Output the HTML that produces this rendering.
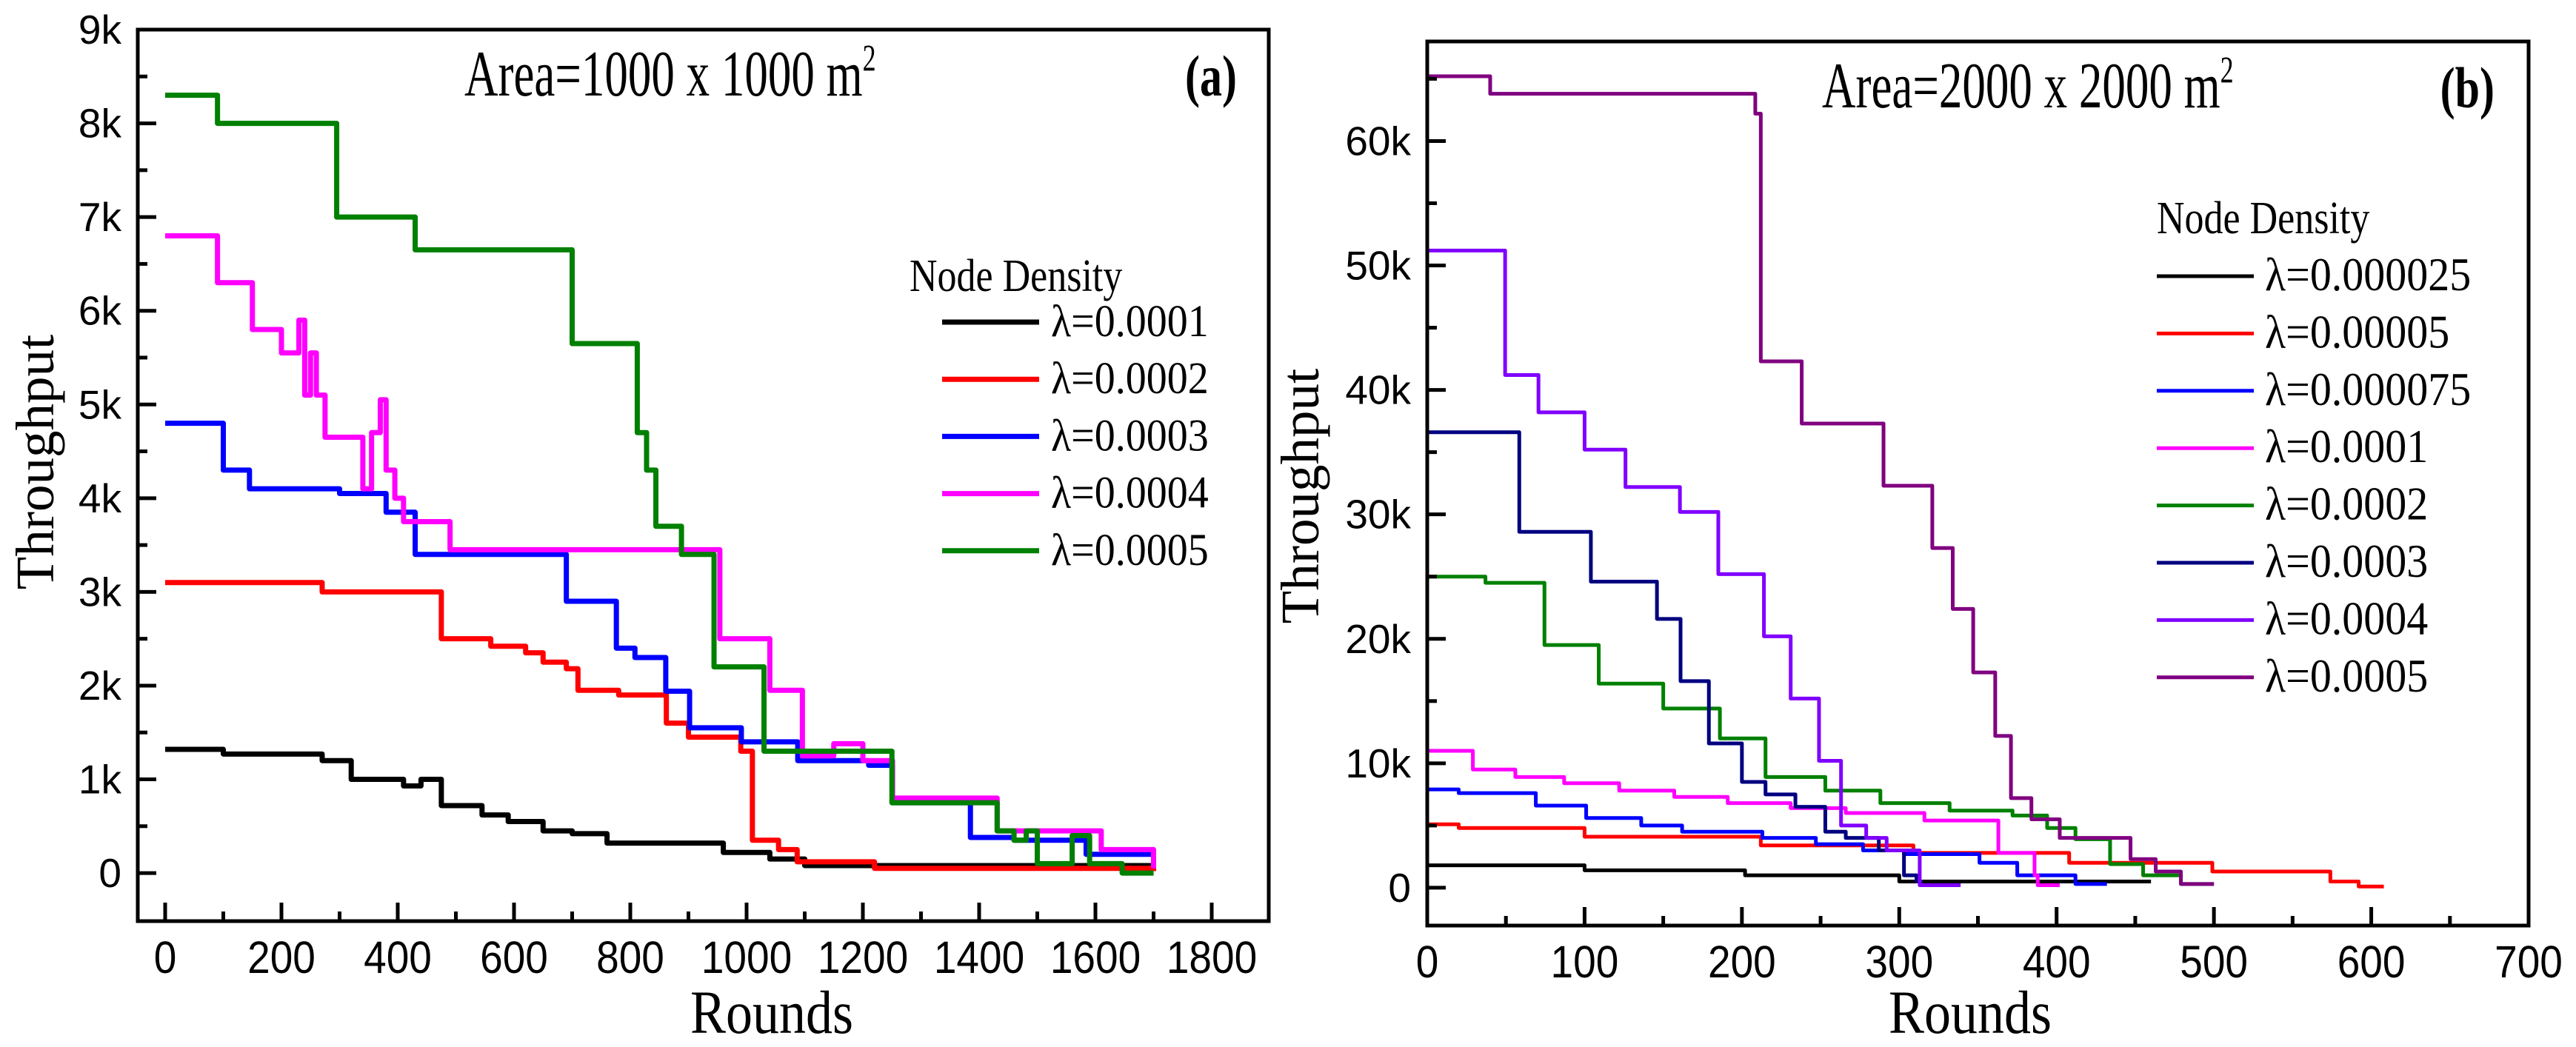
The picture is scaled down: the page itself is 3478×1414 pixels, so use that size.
<!DOCTYPE html>
<html><head><meta charset="utf-8"><style>
html,body{margin:0;padding:0;background:#fff}
svg{display:block}
.tk{font-family:"Liberation Sans",sans-serif;font-size:55px;fill:#000}
.sf{font-family:"Liberation Serif",serif;fill:#000}
</style></head><body>
<svg id="fig" width="3478" height="1414" viewBox="0 0 3478 1414" xmlns="http://www.w3.org/2000/svg"></svg>
<script>
// ---------- Panel (a) data (rounds, throughput in k) ----------
const aXTicks = [0,200,400,600,800,1000,1200,1400,1600,1800];
const aYTicks = [0,1,2,3,4,5,6,7,8,9];
const aYLabels = ["0","1k","2k","3k","4k","5k","6k","7k","8k","9k"];
const aNames = ["λ=0.0001","λ=0.0002","λ=0.0003","λ=0.0004","λ=0.0005"];
const aColors = ["#000000","#ff0000","#0000ff","#ff00ff","#008000"];
const a1X = [0,100,270,320,410,440,475,545,590,650,700,760,960,1040,1100,1700];
const a1Y = [1.32,1.27,1.2,1.0,0.93,1.0,0.72,0.62,0.55,0.45,0.42,0.32,0.22,0.15,0.08,0.03];
const a2X = [0,270,475,560,620,650,690,710,780,862,900,990,1010,1055,1087,1220,1700];
const a2Y = [3.1,3.0,2.5,2.42,2.35,2.25,2.18,1.95,1.9,1.6,1.45,1.3,0.35,0.25,0.12,0.05,0.02];
const a3X = [0,100,145,300,380,430,690,776,808,861,902,991,1088,1210,1251,1385,1460,1584,1700];
const a3Y = [4.8,4.3,4.1,4.05,3.85,3.4,2.9,2.4,2.3,1.94,1.55,1.4,1.2,1.15,0.75,0.38,0.35,0.2,0.05];
const a4X = [0,90,150,200,230,240,250,260,275,340,355,370,380,395,410,490,954,1040,1096,1150,1200,1251,1431,1610,1700];
const a4Y = [6.8,6.3,5.8,5.55,5.9,5.1,5.55,5.1,4.65,4.1,4.7,5.05,4.3,4.0,3.75,3.45,2.5,1.95,1.25,1.38,1.2,0.8,0.45,0.25,0.05];
const a5X = [0,90,295,430,700,812,828,844,888,944,1030,1250,1431,1460,1481,1500,1560,1590,1646,1700];
const a5Y = [8.3,8.0,7.0,6.65,5.65,4.7,4.3,3.7,3.4,2.2,1.3,0.75,0.45,0.35,0.45,0.1,0.4,0.1,0.0,0.0];

// ---------- Panel (b) data ----------
const bXTicks = [0,100,200,300,400,500,600,700];
const bYTicks = [0,10,20,30,40,50,60];
const bYLabels = ["0","10k","20k","30k","40k","50k","60k"];
const bNames = ["λ=0.000025","λ=0.00005","λ=0.000075","λ=0.0001","λ=0.0002","λ=0.0003","λ=0.0004","λ=0.0005"];
const bColors = ["#000000","#ff0000","#0000ff","#ff00ff","#008000","#000080","#8000ff","#800080"];
const b1X = [0,100,202,300,460];
const b1Y = [1.8,1.4,1.0,0.5,0.5];
const b2X = [0,20,100,212,309,408,499,574,592,608];
const b2Y = [5.1,4.8,4.1,3.4,2.8,2.0,1.3,0.5,0.1,0.1];
const b3X = [0,20,69,101,136,162,213,247,277,303,351,375,412,432];
const b3Y = [7.9,7.6,6.6,5.6,5.0,4.5,4.0,3.5,3.0,2.7,2.0,1.0,0.3,0.3];
const b4X = [0,29,56,87,122,157,191,231,266,316,363,386,388,402];
const b4Y = [11,9.5,8.9,8.4,7.8,7.3,6.8,6.4,6.0,5.4,2.8,1.0,0.2,0.2];
const b5X = [0,37,74.5,109,150,186,215,253,288,332,372,394,412,434,455,479,500];
const b5Y = [25,24.5,19.5,16.4,14.4,12,8.9,7.8,6.8,6.2,5.8,4.8,3.9,1.9,1.0,0.3,0.3];
const b6X = [0,58.5,104,146,161,179,200,215,234,253,266,287,303,311,315];
const b6Y = [36.6,28.6,24.6,21.6,16.6,11.6,8.5,7.5,6.5,4.5,4.0,3.0,1.0,0.5,0.5];
const b7X = [0,49.5,70.7,100,126,160.6,185,214,231,249,263,279,292,313,339];
const b7Y = [51.2,41.2,38.2,35.2,32.2,30.2,25.2,20.2,15.2,10.2,5.0,4.0,3.0,0.2,0.2];
const b8X = [0,40,208.5,212,238,290,321,334,347,361,371,384,402,447,463,479,500];
const b8Y = [65.2,63.8,62.2,42.3,37.3,32.3,27.3,22.4,17.3,12.2,7.2,5.5,4.0,2.3,1.3,0.3,0.3];

const NS = "http://www.w3.org/2000/svg";
const svg = document.getElementById('fig');
function mk(tag, attrs, parent, text){
  const e = document.createElementNS(NS, tag);
  for (const k in attrs) e.setAttribute(k, attrs[k]);
  if (text !== undefined) e.textContent = text;
  (parent||svg).appendChild(e);
  return e;
}

function panel(cfg){
  const g = mk('g', {});
  
  
  const sx = v => cfg.L + (v - cfg.x0) / (cfg.x1 - cfg.x0) * (cfg.R - cfg.L);
  const sy = v => cfg.B - (v - cfg.y0) / (cfg.y1 - cfg.y0) * (cfg.B - cfg.T);
  cfg.series.forEach((s, i) => {
    let d = 'M' + sx(s.x[0]) + ',' + sy(s.y[0]);
    for (let j = 1; j < s.x.length; j++) d += ' H' + sx(s.x[j]) + ' V' + sy(s.y[j]);
    const p = mk('path', {d: d, fill: 'none', stroke: cfg.colors[i], 'stroke-width': cfg.lw, 'stroke-linejoin': 'round'}, g);
    
    
  });
  const fr = mk('rect', {x: cfg.L, y: cfg.T, width: cfg.R - cfg.L, height: cfg.B - cfg.T, fill: 'none', stroke: '#000', 'stroke-width': 5}, g);
  
  
  const step = cfg.xt[1] - cfg.xt[0];
  cfg.xt.forEach((v) => {
    const x = sx(v);
    mk('line', {x1: x, x2: x, y1: cfg.B, y2: cfg.B - 25, stroke: '#000', 'stroke-width': 5}, g);
    const t = mk('text', {x: 0, y: 0, 'text-anchor': 'middle', class: 'tk', transform: 'translate(' + x + ',' + (cfg.B + 70) + ') scale(1,1.12)'}, g, String(v));
    
    
    const m = v + step / 2;
    if (m < cfg.x1) mk('line', {x1: sx(m), x2: sx(m), y1: cfg.B, y2: cfg.B - 13, stroke: '#000', 'stroke-width': 5}, g);
  });
  const ys = cfg.yt[1] - cfg.yt[0];
  cfg.yt.forEach((v, i) => {
    const y = sy(v);
    mk('line', {x1: cfg.L, x2: cfg.L + 25, y1: y, y2: y, stroke: '#000', 'stroke-width': 5}, g);
    const t = mk('text', {x: cfg.L - 22, y: y + 19, 'text-anchor': 'end', class: 'tk'}, g, cfg.yl[i]);
    
    
    const m = v + ys / 2;
    if (m < cfg.y1) mk('line', {x1: cfg.L, x2: cfg.L + 13, y1: sy(m), y2: sy(m), stroke: '#000', 'stroke-width': 5}, g);
  });
  const xtl = mk('text', {x: 0, y: 0, 'text-anchor': 'middle', class: 'sf', 'font-size': 72, transform: 'translate(' + cfg.xtx + ',' + cfg.xty + ') scale(1,1.15)'}, g, 'Rounds');
  
  
  const ytl = mk('text', {x: 0, y: 0, 'text-anchor': 'middle', class: 'sf', 'font-size': 73, transform: 'translate(' + cfg.ytx + ',' + cfg.yty + ') rotate(-90)'}, g, 'Throughput');
  
  
  const at = mk('text', {x: 0, y: 0, class: 'sf', 'font-size': 63, transform: 'translate(' + cfg.atx + ',' + cfg.aty + ') scale(1,1.4)'}, g);
  
  
  at.appendChild(document.createTextNode(cfg.atext));
  mk('tspan', {dy: -24, 'font-size': 36}, at, '2');
  const pl = mk('text', {x: 0, y: 0, class: 'sf', 'font-size': 60, 'font-weight': 'bold', 'text-anchor': 'end', transform: 'translate(' + cfg.plx + ',' + cfg.aty + ') scale(1,1.3)'}, g, cfg.plabel);
  
  
  const lg = mk('g', {}, g);
  
  
  mk('text', {x: 0, y: 0, class: 'sf', 'font-size': 52, transform: 'translate(' + cfg.lgx + ',' + cfg.lgy + ') scale(1,1.2)'}, lg, 'Node Density');
  cfg.names.forEach((n, i) => {
    const y = cfg.ly0 + i * cfg.ldy;
    const e = mk('g', {}, lg);
    
    
    mk('line', {x1: cfg.lx1, x2: cfg.lx2, y1: y, y2: y, stroke: cfg.colors[i], 'stroke-width': cfg.lw}, e);
    mk('text', {x: 0, y: 0, class: 'sf', 'font-size': cfg.lfs, transform: 'translate(' + cfg.ltx + ',' + (y + 19) + ') scale(1,1.1)'}, e, n);
  });
}

panel({id: 'panel-a', L: 186, R: 1713, T: 40, B: 1244,
  x0: (186 - 223) / 0.785, x1: (1713 - 223) / 0.785, y0: -0.513, y1: 9,
  xt: aXTicks, yt: aYTicks, yl: aYLabels, names: aNames, colors: aColors, lw: 7,
  series: [{x: a1X, y: a1Y}, {x: a2X, y: a2Y}, {x: a3X, y: a3Y}, {x: a4X, y: a4Y}, {x: a5X, y: a5Y}],
  xtx: 1042, xty: 1395, ytx: 72, yty: 624,
  atx: 627, aty: 129, atext: 'Area=1000 x 1000 m', plx: 1670, plabel: '(a)',
  lgx: 1228, lgy: 393, lfs: 56, ly0: 435, ldy: 77.2, lx1: 1272, lx2: 1403, ltx: 1419});

panel({id: 'panel-b', L: 1927, R: 3414, T: 56, B: 1250,
  x0: 0, x1: 700, y0: -3.04, y1: 68.0,
  xt: bXTicks, yt: bYTicks, yl: bYLabels, names: bNames, colors: bColors, lw: 5,
  series: [{x: b1X, y: b1Y}, {x: b2X, y: b2Y}, {x: b3X, y: b3Y}, {x: b4X, y: b4Y}, {x: b5X, y: b5Y}, {x: b6X, y: b6Y}, {x: b7X, y: b7Y}, {x: b8X, y: b8Y}],
  xtx: 2660, xty: 1395, ytx: 1780, yty: 670,
  atx: 2460, aty: 145, atext: 'Area=2000 x 2000 m', plx: 3368, plabel: '(b)',
  lgx: 2912, lgy: 315, lfs: 58, ly0: 373, ldy: 77.4, lx1: 2912, lx2: 3043, ltx: 3058});
</script>
</body></html>
